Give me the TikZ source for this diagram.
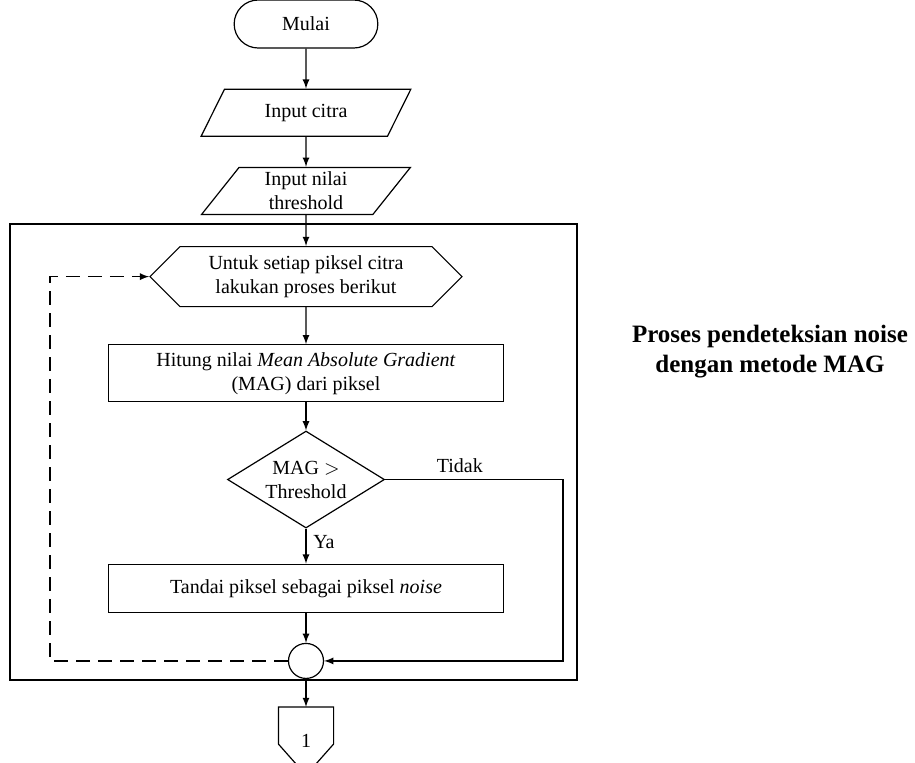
\documentclass[tikz,border=0pt]{standalone}
\usepackage{fontspec}
\setmainfont{Liberation Serif}
\usepackage{tikz}
\usetikzlibrary{shapes.geometric}
\usetikzlibrary{shapes.misc}
\usetikzlibrary{shapes.symbols}
\usetikzlibrary{arrows}

\begin{document}
\begin{tikzpicture}[semithick,>=latex,
  io/.style={trapezium,trapezium left angle=60,trapezium right angle=120,trapezium stretches=true,minimum width=105pt,minimum height=23.5pt,inner sep=1pt,align=center},
  proc/.style={rectangle,minimum width=197.5pt,inner sep=1pt,align=center},
  putus/.style={dash pattern=on 7pt off 4pt}]
\useasboundingbox (0,0) rectangle (457.5pt,-381pt);
\node [rounded rectangle,draw,minimum width=78.5pt,minimum height=24pt] (mulai) at (153pt,-12pt) {Mulai};
\node [io,draw,below=20pt,at=(mulai.south)] (citra) {Input citra};
\node [io,draw,below=15pt,at=(citra.south)] (thres) {Input nilai\\threshold};
\node [signal,signal to=west and east,signal pointer angle=90,draw,minimum width=156pt,minimum height=30pt,inner sep=1pt,align=center,below=15.5pt,at=(thres.south)] (loop) {Untuk setiap piksel citra\\lakukan proses berikut};
\node [proc,draw,minimum height=28.5pt,below=18.5pt,at=(loop.south)] (hitung) {Hitung nilai \textit{Mean Absolute Gradient}\\(MAG) dari piksel};
\node [diamond,draw,aspect=1.6,minimum width=78.5pt,minimum height=48.5pt,inner sep=0pt,align=center,below=14pt,at=(hitung.south)] (cek) {MAG $>$\\Threshold};
\node [proc,draw,minimum height=24pt,below=17.5pt,at=(cek.south)] (tandai) {Tandai piksel sebagai piksel \textit{noise}};
\node [circle,draw,minimum size=17.5pt,inner sep=0pt,below=15pt,at=(tandai.south)] (gabung) {};
\node [rectangle,minimum width=27pt,minimum height=33.5pt,inner sep=0pt,below=14pt,at=(gabung.south)] (hal) {1};
\node [font=\bfseries\fontsize{12.5}{15}\selectfont,align=center] (judul) at (385pt,-176pt) {Proses pendeteksian noise\\dengan metode MAG};

% bingkai proses MAG
\draw [thick] (5pt,-112pt) rectangle (288.5pt,-340pt);
% konektor halaman
\draw (hal.north west) -- (hal.north east) -- ++(0,-18.5pt) -- (hal.south) -- ([yshift=-18.5pt]hal.north west) -- cycle;
\coordinate (balik) at (25pt,-200pt);
\coordinate (kanan) at (281.5pt,-200pt);

\draw [->] (mulai) -- (citra);
\draw [->] (citra) -- (thres);
\draw [->] (thres) -- (loop);
\draw [->] (loop) -- (hitung);
\draw [->] (hitung) -- (cek);
\draw [->] (cek) -- node [right,pos=0.37] (ya) {Ya} (tandai);
\draw [->] (tandai) -- (gabung);
\draw [->] (cek.east) -- node [above,pos=0.42] (tidak) {Tidak} (cek.east -| kanan) |- (gabung.east);
\draw [->,putus] (gabung.west) -- (gabung.west -| balik) |- (loop.west);
\draw [->] (gabung) -- (hal);
\end{tikzpicture}
\end{document}
